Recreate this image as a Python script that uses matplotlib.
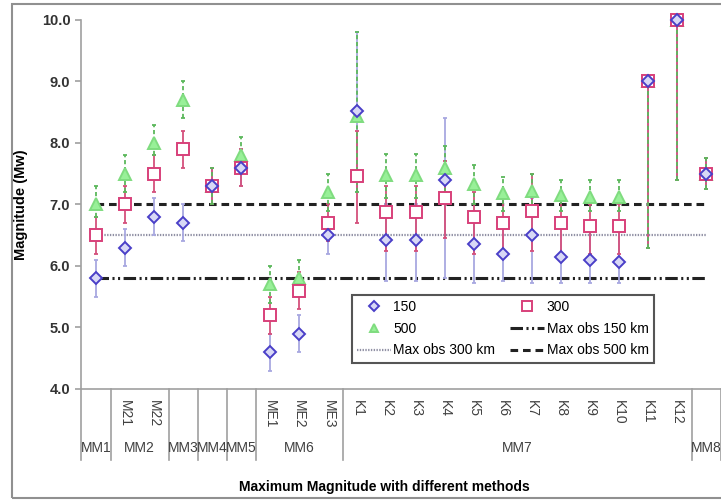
import numpy as np
import matplotlib.pyplot as plt
import matplotlib.transforms as mtransforms
from matplotlib.patches import Rectangle
from matplotlib.lines import Line2D

plt.rcParams['font.family'] = ['Liberation Sans', 'DejaVu Sans']
plt.rcParams['lines.scale_dashes'] = False

# categories (inner level) and the method groups (outer level)
categories = ['MM1', 'M21', 'M22', 'MM3', 'MM4', 'MM5', 'ME1', 'ME2', 'ME3',
              'K1', 'K2', 'K3', 'K4', 'K5', 'K6', 'K7', 'K8', 'K9', 'K10',
              'K11', 'K12', 'MM8']
inner_labels = ['', 'M21', 'M22', '', '', '', 'ME1', 'ME2', 'ME3',
                'K1', 'K2', 'K3', 'K4', 'K5', 'K6', 'K7', 'K8', 'K9', 'K10',
                'K11', 'K12', '']
groups = ['MM1', 'MM2', 'MM3', 'MM4', 'MM5', 'MM6', 'MM7', 'MM8']
group_sizes = [1, 2, 1, 1, 1, 3, 12, 1]

# 150 km
m150 = [5.8, 6.3, 6.8, 6.7, 7.3, 7.6, 4.6, 4.9, 6.5, 8.52, 6.42, 6.42, 7.4,
        6.35, 6.2, 6.5, 6.15, 6.1, 6.07, 9.0, 10.0, 7.5]
lo150 = [5.5, 6.0, 6.5, 6.4, 7.0, 7.3, 4.3, 4.6, 6.2, 7.2, 5.75, 5.75, 5.8,
         5.72, 5.75, 5.72, 5.72, 5.72, 5.72, 6.3, 7.4, 7.25]
hi150 = [6.1, 6.6, 7.1, 7.0, 7.6, 7.9, 4.9, 5.2, 6.8, 9.8, 7.0, 7.0, 8.4,
         6.9, 6.8, 7.1, 6.7, 6.7, 6.6, 9.0, 10.0, 7.75]
# 300 km
m300 = [6.5, 7.0, 7.5, 7.9, 7.3, 7.6, 5.2, 5.6, 6.7, 7.47, 6.88, 6.88, 7.1,
        6.8, 6.7, 6.9, 6.7, 6.65, 6.65, 9.0, 10.0, 7.5]
lo300 = [6.2, 6.7, 7.2, 7.6, 7.0, 7.3, 4.9, 5.3, 6.4, 6.7, 6.25, 6.25, 6.45,
         6.2, 6.2, 6.25, 6.2, 6.2, 6.2, 6.3, 7.4, 7.25]
hi300 = [6.8, 7.3, 7.8, 8.2, 7.6, 7.9, 5.5, 5.9, 7.0, 8.2, 7.3, 7.3, 7.7,
         7.2, 7.1, 7.5, 7.1, 7.0, 7.0, 9.0, 10.0, 7.75]
# 500 km
m500 = [7.0, 7.5, 8.0, 8.7, 7.3, 7.8, 5.7, 5.8, 7.2, 8.44, 7.48, 7.48, 7.6,
        7.33, 7.18, 7.22, 7.15, 7.12, 7.12, 9.0, 10.0, 7.5]
lo500 = [6.8, 7.2, 7.8, 8.4, 7.0, 7.5, 5.4, 5.6, 6.9, 7.2, 7.1, 7.1, 7.2,
         7.0, 6.9, 6.9, 6.9, 6.9, 6.9, 6.3, 7.4, 7.25]
hi500 = [7.3, 7.8, 8.3, 9.0, 7.6, 8.1, 6.0, 6.1, 7.5, 9.8, 7.82, 7.82, 7.95,
         7.65, 7.45, 7.5, 7.4, 7.4, 7.4, 9.0, 10.0, 7.75]

max_obs_150 = 5.8
max_obs_300 = 6.5
max_obs_500 = 7.0

fig = plt.figure(figsize=(7.21, 5.01), dpi=100)
ax = fig.add_axes([0.1130, 0.2236, 0.8864, 0.7365])
x = np.arange(len(categories))


def draw_series(vals, lo, hi, ecolor, els, ez, marker, ms, mec, mfc, mz):
    vals = np.array(vals)
    yerr = [vals - np.array(lo), np.array(hi) - vals]
    eb = ax.errorbar(x, vals, yerr=yerr, fmt='none', ecolor=ecolor,
                     elinewidth=1.3, capsize=1.5, capthick=1.3, zorder=ez)
    eb[2][0].set_linestyle(els)
    return ax.plot(x, vals, ls='none', marker=marker, ms=ms, mec=mec,
                   mfc=mfc, mew=1.4, zorder=mz, clip_on=False)[0]


# reference lines
ax.hlines(max_obs_150, x[0], x[-1], colors='#222222', lw=2.2,
          linestyles=[(0, (9, 2.5, 1.5, 2.5, 1.5, 2.5))], zorder=1)
ax.hlines(max_obs_300, x[0], x[-1], colors='#9090a4', lw=1.6,
          linestyles=[(0, (1, 1))], zorder=1)
ax.hlines(max_obs_500, x[0], x[-1], colors='#222222', lw=2.2,
          linestyles=[(0, (5.5, 3.5))], zorder=1)

h500 = draw_series(m500, lo500, hi500, '#5cb85c', (0, (3, 2)), 3.2,
                   '^', 8, '#7fdc7f', '#98f098', 5)
h300 = draw_series(m300, lo300, hi300, '#d4507c', '-', 3.0,
                   's', 9, '#d8407a', 'white', 6)
h150 = draw_series(m150, lo150, hi150, '#a8a8e0', '-', 2.8,
                   'D', 6, '#4a3fc8', '#d8d8f6', 7)

ax.set_xlim(-0.5, len(categories) - 0.5)
ax.set_ylim(4, 10)
ax.set_yticks(np.arange(4, 10.5, 1))
ax.set_yticklabels([f'{v:.1f}' for v in np.arange(4, 10.5, 1)])
ax.tick_params(axis='y', labelsize=10.5, labelcolor='#333333', color='#a0a0a0',
               length=4, width=1.2, pad=4)
for lab in ax.get_yticklabels():
    lab.set_fontweight('bold')

ax.set_xticks(x)
ax.set_xticklabels(inner_labels, rotation=270, fontsize=10, color='#404040',
                   va='top', ha='center')
ax.tick_params(axis='x', length=0, pad=8)

for s in ['top', 'right']:
    ax.spines[s].set_visible(False)
for s in ['left', 'bottom']:
    ax.spines[s].set_color('#a0a0a0')
    ax.spines[s].set_linewidth(1.2)

# outer level of the category axis
trans = mtransforms.blended_transform_factory(ax.transData, ax.transAxes)
bounds = np.concatenate([[0], np.cumsum(group_sizes)]) - 0.5
for b in bounds:
    ax.plot([b, b], [0, -0.192], transform=trans, clip_on=False,
            color='#a0a0a0', lw=1.2)
for name, a, b in zip(groups, bounds[:-1], bounds[1:]):
    ax.text((a + b) / 2, -0.16, name, transform=trans, ha='center',
            va='center', fontsize=10, color='#404040')

ax.set_ylabel('Magnitude (Mw)', fontsize=10.5, fontweight='bold')
ax.yaxis.set_label_coords(-0.0837, 0.5)
fig.text(384 / 721, 1 - 487 / 501, 'Maximum Magnitude with different methods',
         ha='center', va='center', fontsize=10, fontweight='bold')

# legend
hmax150 = Line2D([], [], color='#222222', lw=2.2,
                 ls=(0, (9, 2.5, 1.5, 2.5, 1.5, 2.5)))
hmax300 = Line2D([], [], color='#9090a4', lw=1.6, ls=(0, (1, 1)))
hmax500 = Line2D([], [], color='#222222', lw=2.2, ls=(0, (5.5, 3.5)))
handles = [h150, h500, hmax300, h300, hmax150, hmax500]
labels = ['150', '500', 'Max obs 300 km', '300', 'Max obs 150 km', 'Max obs 500 km']
leg = ax.legend(handles, labels, ncol=2, loc='lower left', mode='expand',
                bbox_to_anchor=(0.423, 0.0705, 0.473, 0.192), fontsize=10,
                fancybox=False, framealpha=1, edgecolor='#555555',
                handlelength=2.4, handletextpad=0.2, borderaxespad=0,
                labelspacing=0.55, columnspacing=1.0, markerscale=0.8)
leg.get_frame().set_linewidth(1.5)
leg.set_zorder(10)

# chart border
fig.add_artist(Rectangle((12 / 721, 1 - 498 / 501), 1.0, 494 / 501,
                         transform=fig.transFigure, fill=False,
                         ec='#909090', lw=1.5))

fig.savefig('out.png', dpi=100)
